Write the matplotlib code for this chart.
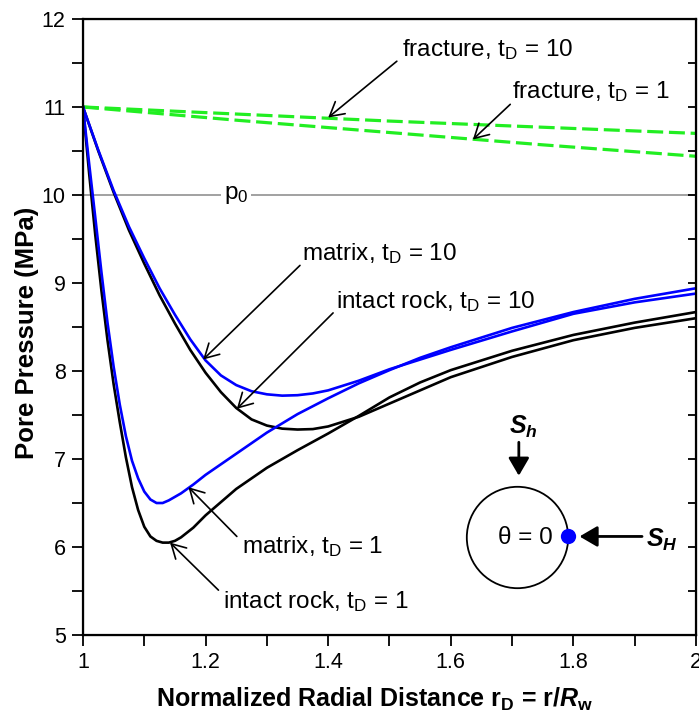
import numpy as np
import matplotlib
matplotlib.use("Agg")
import matplotlib.pyplot as plt

plt.rcParams["font.family"] = ["Liberation Sans", "DejaVu Sans"]
plt.rcParams["mathtext.fontset"] = "custom"
plt.rcParams["mathtext.rm"] = "Liberation Sans"
plt.rcParams["mathtext.it"] = "Liberation Sans:italic"
plt.rcParams["mathtext.bf"] = "Liberation Sans:bold"
plt.rcParams["mathtext.bfit"] = "Liberation Sans:bold:italic"

# pore pressure (MPa) vs normalized radial distance rD
r_intact_1 = [1.00, 1.01, 1.02, 1.03, 1.04, 1.05, 1.06, 1.07, 1.08, 1.09, 1.10, 1.11, 1.12, 1.13,
              1.14, 1.15, 1.16, 1.18, 1.20, 1.25, 1.30, 1.35, 1.40, 1.45, 1.50, 1.55, 1.60, 1.70,
              1.80, 1.90, 2.00]
p_intact_1 = [11.0, 10.25, 9.55, 8.92, 8.35, 7.85, 7.42, 7.02, 6.68, 6.42, 6.23, 6.12, 6.07, 6.05,
              6.05, 6.07, 6.11, 6.22, 6.36, 6.66, 6.90, 7.10, 7.29, 7.49, 7.70, 7.87, 8.01, 8.23,
              8.41, 8.55, 8.67]

r_matrix_1 = [1.00, 1.01, 1.02, 1.03, 1.04, 1.05, 1.06, 1.07, 1.08, 1.09, 1.10, 1.11, 1.12, 1.13,
              1.14, 1.15, 1.16, 1.18, 1.20, 1.25, 1.30, 1.35, 1.40, 1.45, 1.50, 1.55, 1.60, 1.70,
              1.80, 1.90, 2.00]
p_matrix_1 = [11.0, 10.36, 9.75, 9.13, 8.55, 8.05, 7.62, 7.26, 6.98, 6.78, 6.63, 6.54, 6.50, 6.50,
              6.53, 6.57, 6.61, 6.71, 6.82, 7.06, 7.30, 7.51, 7.69, 7.86, 8.01, 8.15, 8.27, 8.49,
              8.67, 8.82, 8.94]

r_intact_10 = [1.00, 1.025, 1.05, 1.075, 1.10, 1.125, 1.15, 1.175, 1.20, 1.225, 1.25, 1.275, 1.30,
               1.325, 1.35, 1.375, 1.40, 1.45, 1.50, 1.55, 1.60, 1.70, 1.80, 1.90, 2.00]
p_intact_10 = [11.0, 10.50, 10.03, 9.60, 9.22, 8.86, 8.54, 8.24, 7.98, 7.76, 7.58, 7.45, 7.38,
               7.345, 7.335, 7.34, 7.37, 7.48, 7.63, 7.78, 7.93, 8.16, 8.35, 8.49, 8.60]

r_matrix_10 = [1.00, 1.025, 1.05, 1.075, 1.10, 1.125, 1.15, 1.175, 1.20, 1.225, 1.25, 1.275, 1.30,
               1.325, 1.35, 1.375, 1.40, 1.45, 1.50, 1.55, 1.60, 1.70, 1.80, 1.90, 2.00]
p_matrix_10 = [11.0, 10.51, 10.05, 9.64, 9.28, 8.94, 8.64, 8.36, 8.12, 7.95, 7.84, 7.77, 7.735,
               7.72, 7.725, 7.745, 7.78, 7.89, 8.02, 8.13, 8.24, 8.45, 8.65, 8.78, 8.88]

r_fracture = [1.00, 1.25, 1.50, 1.75, 2.00]
p_fracture_10 = [11.0, 10.92, 10.84, 10.77, 10.70]
p_fracture_1 = [11.0, 10.85, 10.71, 10.57, 10.44]

p0 = 10.0
x_ticks = [1.0, 1.2, 1.4, 1.6, 1.8, 2.0]
x_ticklabels = ["1", "1.2", "1.4", "1.6", "1.8", "2"]
y_ticks = [5, 6, 7, 8, 9, 10, 11, 12]

fig = plt.figure(figsize=(6.99, 7.19), dpi=100)
ax = fig.add_axes([0.1187, 0.1168, 0.8770, 0.8568])

green = "#22ee22"
ax.plot(r_fracture, p_fracture_10, color=green, lw=2.3, dashes=(5, 1.8))
ax.plot(r_fracture, p_fracture_1, color=green, lw=2.3, dashes=(5, 1.8))
ax.axhline(p0, color="#9a9a9a", lw=1.3, zorder=1)
ax.plot(r_intact_1, p_intact_1, color="black", lw=1.9)
ax.plot(r_intact_10, p_intact_10, color="black", lw=1.9)
ax.plot(r_matrix_1, p_matrix_1, color="#0000ff", lw=1.9)
ax.plot(r_matrix_10, p_matrix_10, color="#0000ff", lw=1.9)

fs = 17.5
ax.text(1.25, p0, "p$_0$", fontsize=fs, ha="center", va="center",
        bbox=dict(facecolor="white", edgecolor="none", pad=2))

# (label, text xy, arrow tail, arrow tip)
notes = [
    ("fracture, t$_\\mathrm{D}$ = 10", (1.52, 11.65), (1.512, 11.52), (1.40, 10.88)),
    ("fracture, t$_\\mathrm{D}$ = 1", (1.70, 11.17), (1.697, 11.03), (1.636, 10.63)),
    ("matrix, t$_\\mathrm{D}$ = 10", (1.357, 9.34), (1.354, 9.20), (1.196, 8.13)),
    ("intact rock, t$_\\mathrm{D}$ = 10", (1.413, 8.79), (1.408, 8.66), (1.251, 7.57)),
    ("matrix, t$_\\mathrm{D}$ = 1", (1.259, 6.00), (1.251, 6.12), (1.172, 6.68)),
    ("intact rock, t$_\\mathrm{D}$ = 1", (1.228, 5.38), (1.221, 5.51), (1.142, 6.05)),
]
for label, txy, tail, tip in notes:
    ax.text(txy[0], txy[1], label, fontsize=fs, ha="left", va="center")
    ax.annotate("", xy=tip, xytext=tail,
                arrowprops=dict(arrowstyle="->,head_length=0.5,head_width=0.28",
                                lw=1.2, color="black", mutation_scale=20,
                                shrinkA=0, shrinkB=0))

# wellbore sketch
ax.plot([1.708], [6.11], marker="o", ms=73, mfc="none", mec="black", mew=1.3)
ax.text(1.722, 6.10, "θ = 0", fontsize=fs, ha="center", va="center")
ax.plot([1.792], [6.12], marker="o", ms=11, color="#0000ff", mec="none")
ax.annotate("", xy=(1.810, 6.12), xytext=(1.912, 6.12),
            arrowprops=dict(arrowstyle="-|>,head_length=0.6,head_width=0.35", lw=2,
                            color="black", mutation_scale=18, shrinkA=0, shrinkB=0))
ax.text(1.945, 6.08, "$\\mathbfit{S}_\\mathbfit{H}$", fontsize=18, ha="center", va="center")
ax.annotate("", xy=(1.711, 6.81), xytext=(1.711, 7.19),
            arrowprops=dict(arrowstyle="-|>,head_length=0.6,head_width=0.35", lw=2,
                            color="black", mutation_scale=18, shrinkA=0, shrinkB=0))
ax.text(1.718, 7.36, "$\\mathbfit{S}_\\mathbfit{h}$", fontsize=18, ha="center", va="center")

ax.set_xlim(1, 2)
ax.set_ylim(5, 12)
ax.set_xticks(x_ticks)
ax.set_xticklabels(x_ticklabels)
ax.set_xticks([1.1, 1.3, 1.5, 1.7, 1.9], minor=True)
ax.set_yticks(y_ticks)
ax.set_yticks([5.5, 6.5, 7.5, 8.5, 9.5, 10.5, 11.5], minor=True)
ax.tick_params(which="both", direction="out", length=8, width=1.3, labelsize=15.5, pad=4.5)
for s in ax.spines.values():
    s.set_linewidth(1.6)

ax2 = ax.twinx()
ax2.set_ylim(5, 12)
ax2.set_yticks([5.5, 6, 6.5, 7, 7.5, 8, 8.5, 9, 9.5, 10, 10.5, 11, 11.5])
ax2.tick_params(direction="in", length=6, width=1.3, labelright=False)

ax.set_xlabel("Normalized Radial Distance r$_\\mathbf{D}$ = r/$\\mathbfit{R}_\\mathbf{w}$",
              fontsize=18, fontweight="bold", labelpad=9)
ax.xaxis.label.set_x(0.476)
ax.set_ylabel("Pore Pressure (MPa)", fontsize=18.5, fontweight="bold", labelpad=2)
ax.yaxis.label.set_y(0.49)

fig.savefig("out.png", dpi=100)
